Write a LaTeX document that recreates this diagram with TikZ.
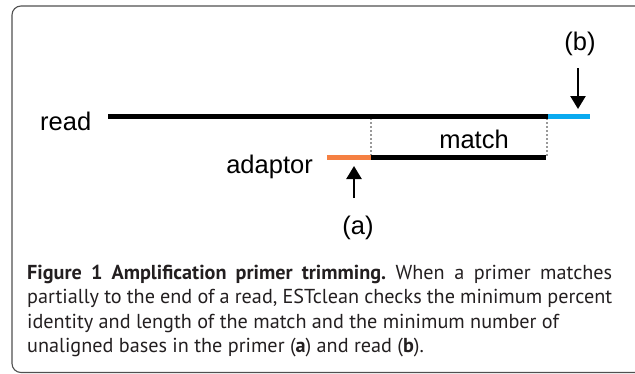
\documentclass[tikz,border=0pt]{standalone}
\usepackage{fontspec}
\setmainfont{Liberation Sans}
\newfontfamily\capfont{PT Sans}
\usetikzlibrary{arrows.meta}
\definecolor{adorange}{RGB}{245,128,66}
\definecolor{readblue}{RGB}{10,170,240}
\definecolor{framegray}{RGB}{80,80,80}
\definecolor{captxt}{RGB}{35,31,32}
\tikzset{
  seq/.style={line width=5pt},
  guide/.style={draw=gray!80, line width=1.8pt, dash pattern=on 2pt off 2pt},
  pointer/.style={line width=2.4pt, -{Triangle[width=15pt,length=13pt]}},
  lbl/.style={font=\fontsize{25.5}{30}\selectfont, inner sep=0pt},
  capline/.style={font=\capfont\fontsize{20.2}{24}\selectfont\frenchspacing, text=captxt, inner sep=0pt, anchor=base west}
}
\begin{document}
\begin{tikzpicture}[x=1pt,y=-1pt]
\useasboundingbox (0,0) rectangle (635,373);
\draw[framegray, line width=1.1pt, rounded corners=9pt] (12,6) rectangle (660,372.5);
% coordinates
\coordinate (r1) at (108,116);
\coordinate (r2) at (548,116);
\coordinate (r3) at (590,116);
\coordinate (a1) at (327,157);
\coordinate (a2) at (371,157);
\coordinate (a3) at (546,157);
\coordinate (d1t) at (371,118);
\coordinate (d2t) at (547,118);
\coordinate (d2b) at (547,157);
\coordinate (bt) at (578,68);
\coordinate (bh) at (578,109);
\coordinate (at) at (354,198);
\coordinate (ah) at (354,166);
% guides
\draw[guide] (d1t) -- (a2);
\draw[guide] (d2t) -- (d2b);
% sequences
\draw[seq] (r1) -- (r2);
\draw[seq, readblue] (r2) -- (r3);
\draw[seq, adorange] (a1) -- (a2);
\draw[seq] (a2) -- (a3);
% labels
\node[lbl, anchor=base west] (read) at (40,130) {read};
\node[lbl, anchor=base] (match) at (474,148) {match};
\node[lbl, anchor=base east] (adaptor) at (313,173) {adaptor};
\node[lbl] (lb) at (580,44) {(b)};
\node[lbl] (la) at (358,228) {(a)};
% pointers
\draw[pointer] (bt) -- (bh);
\draw[pointer] (at) -- (ah);
% caption
\node[capline] (c1) at (27,279) {\makebox[585pt][s]{\textbf{Figure 1 Amplification primer trimming.} When a primer matches}};
\node[capline] (c2) at (27,303.5) {\makebox[585pt][s]{partially to the end of a read, ESTclean checks the minimum percent}};
\node[capline] (c3) at (27,328) {identity and length of the match and the minimum number of};
\node[capline] (c4) at (27,352.5) {unaligned bases in the primer (\textbf{a}) and read (\textbf{b}).};
\end{tikzpicture}
\end{document}
